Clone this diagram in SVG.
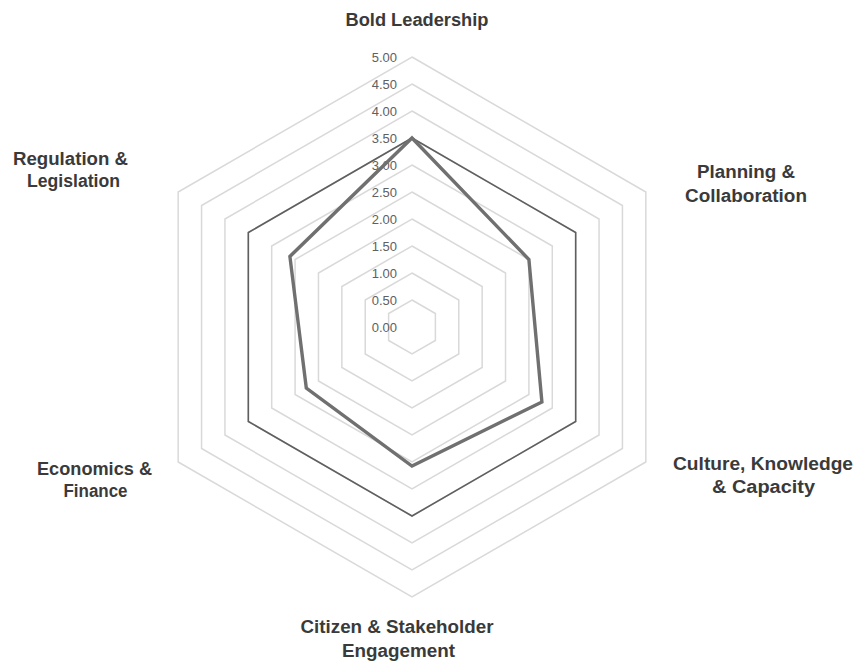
<svg xmlns="http://www.w3.org/2000/svg" width="857" height="668" viewBox="0 0 857 668">
<style>
.grid{fill:none;stroke:#d9d9d9;stroke-width:1.5;stroke-linejoin:miter}
.tick{font-family:"Liberation Sans",Arial,sans-serif;font-size:13px;fill:#606060;text-anchor:end}
.axis{font-family:"Liberation Sans",Arial,sans-serif;font-size:17.5px;font-weight:bold;fill:#3a3a3a;text-anchor:middle}
.target{fill:none;stroke:#5f5f5f;stroke-width:1.6;stroke-linejoin:miter}
.actual{fill:none;stroke:#707070;stroke-width:3.4;stroke-linejoin:miter}
</style>
<rect width="857" height="668" fill="#ffffff"/>
<g id="grid">
<polygon class="grid" points="412,300 435.38,313.5 435.38,340.5 412,354 388.62,340.5 388.62,313.5"/>
<polygon class="grid" points="412,273 458.77,300 458.77,354 412,381 365.23,354 365.23,300"/>
<polygon class="grid" points="412,246 482.15,286.5 482.15,367.5 412,408 341.85,367.5 341.85,286.5"/>
<polygon class="grid" points="412,219 505.53,273 505.53,381 412,435 318.47,381 318.47,273"/>
<polygon class="grid" points="412,192 528.91,259.5 528.91,394.5 412,462 295.09,394.5 295.09,259.5"/>
<polygon class="grid" points="412,165 552.3,246 552.3,408 412,489 271.7,408 271.7,246"/>
<polygon class="grid" points="412,138 575.68,232.5 575.68,421.5 412,516 248.32,421.5 248.32,232.5"/>
<polygon class="grid" points="412,111 599.06,219 599.06,435 412,543 224.94,435 224.94,219"/>
<polygon class="grid" points="412,84 622.44,205.5 622.44,448.5 412,570 201.56,448.5 201.56,205.5"/>
<polygon class="grid" points="412,57 645.83,192 645.83,462 412,597 178.17,462 178.17,192"/>
</g>
<g id="scale">
<text class="tick" x="397" y="61.5">5.00</text>
<text class="tick" x="397" y="88.5">4.50</text>
<text class="tick" x="397" y="115.5">4.00</text>
<text class="tick" x="397" y="142.5">3.50</text>
<text class="tick" x="397" y="169.5">3.00</text>
<text class="tick" x="397" y="196.5">2.50</text>
<text class="tick" x="397" y="223.5">2.00</text>
<text class="tick" x="397" y="250.5">1.50</text>
<text class="tick" x="397" y="277.5">1.00</text>
<text class="tick" x="397" y="304.5">0.50</text>
<text class="tick" x="397" y="331.5">0.00</text>
</g>
<g id="series">
<polygon class="target" points="412,138 575.68,232.5 575.68,421.5 412,516 248.32,421.5 248.32,232.5"/>
<polygon class="actual" points="412,138 528.9,259.5 541.9,402 412,466 306.3,388 289.9,256.5"/>
</g>
<g id="label-bold-leadership">
<text class="axis" x="417" y="26" textLength="143" lengthAdjust="spacingAndGlyphs">Bold Leadership</text>
</g>
<g id="label-planning">
<text class="axis" x="746" y="178" textLength="98" lengthAdjust="spacingAndGlyphs">Planning &amp;</text>
<text class="axis" x="746" y="202" textLength="122" lengthAdjust="spacingAndGlyphs">Collaboration</text>
</g>
<g id="label-culture">
<text class="axis" x="763" y="470" textLength="180" lengthAdjust="spacingAndGlyphs">Culture, Knowledge</text>
<text class="axis" x="763.5" y="493" textLength="103" lengthAdjust="spacingAndGlyphs">&amp; Capacity</text>
</g>
<g id="label-citizen">
<text class="axis" x="397" y="633" textLength="193" lengthAdjust="spacingAndGlyphs">Citizen &amp; Stakeholder</text>
<text class="axis" x="398.5" y="657" textLength="113" lengthAdjust="spacingAndGlyphs">Engagement</text>
</g>
<g id="label-economics">
<text class="axis" x="94.5" y="475" textLength="115" lengthAdjust="spacingAndGlyphs">Economics &amp;</text>
<text class="axis" x="95.5" y="497" textLength="64" lengthAdjust="spacingAndGlyphs">Finance</text>
</g>
<g id="label-regulation">
<text class="axis" x="70.5" y="165" textLength="115" lengthAdjust="spacingAndGlyphs">Regulation &amp;</text>
<text class="axis" x="73.5" y="187" textLength="93" lengthAdjust="spacingAndGlyphs">Legislation</text>
</g>
</svg>
